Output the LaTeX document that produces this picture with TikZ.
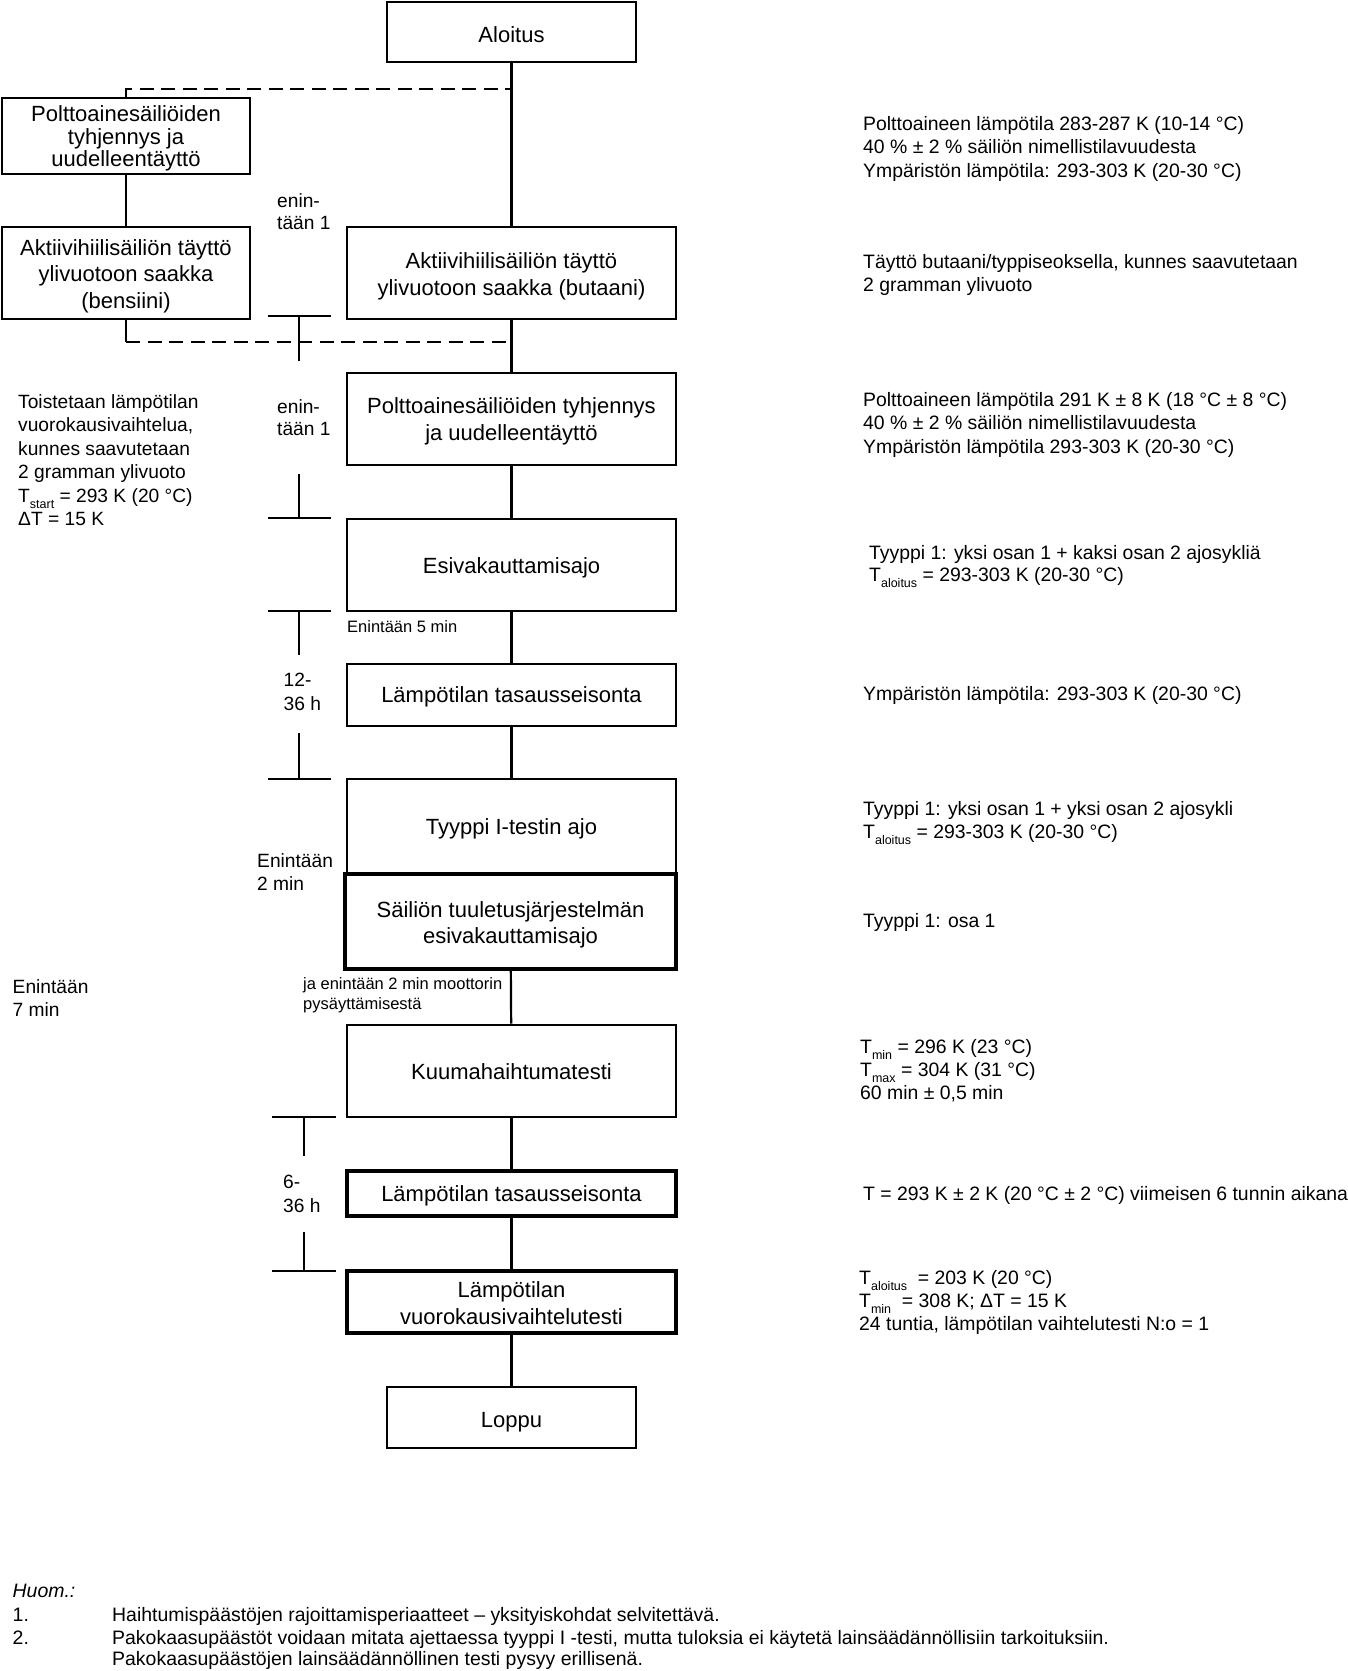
\documentclass[tikz,border=0pt]{standalone}
\usepackage{fontspec}
\setmainfont{Liberation Sans}
\newcommand\tsub[1]{\raisebox{-0.32em}{\fontsize{12.5}{12.5}\selectfont #1}}
\newcommand\bt[2][7pt]{\raisebox{0pt}[\dimexpr\height+#1\relax]{\begin{tabular}{@{}c@{}}#2\end{tabular}}}
\begin{document}
\begin{tikzpicture}[x=1pt,y=-1pt,
  box/.style={draw, line width=2.6pt, inner sep=0pt,
    font=\fontsize{22}{27}\selectfont, minimum width=329pt},
  thickbox/.style={box, line width=4.2pt},
  txt/.style={inner sep=0pt, anchor=north west, align=left,
    font=\fontsize{19.4}{23.4}\selectfont},
  small/.style={inner sep=0pt, align=left, font=\fontsize{16.5}{20}\selectfont},
  conn/.style={line width=2.2pt},
  dashconn/.style={line width=2.2pt, dash pattern=on 14pt off 7.5pt},
  tick/.style={line width=2.2pt}]
\useasboundingbox (0,0) rectangle (1347,1671);
\fill[white] (0,0) rectangle (1347,1671);

% boxes
\node[box, minimum width=249pt, minimum height=60pt] (aloitus) at (511.5,32) {\bt[10pt]{Aloitus}};
\node[box, minimum width=248pt, minimum height=76pt, font=\fontsize{22}{22.4}\selectfont] (poltL) at (126,136) {\bt{Polttoainesäiliöiden\\tyhjennys ja\\uudelleentäyttö}};
\node[box, minimum width=248pt, minimum height=92pt, font=\fontsize{22}{26.6}\selectfont] (bens) at (126,273) {\bt{Aktiivihiilisäiliön täyttö\\ylivuotoon saakka\\(bensiini)}};
\node[box, minimum height=92pt] (but) at (511.5,273) {\bt{Aktiivihiilisäiliön täyttö\\ylivuotoon saakka (butaani)}};
\node[box, minimum height=92pt] (polt) at (511.5,419) {\bt[6pt]{Polttoainesäiliöiden tyhjennys\\ja uudelleentäyttö}};
\node[box, minimum height=92pt] (esi) at (511.5,565) {\bt[6pt]{Esivakauttamisajo}};
\node[box, minimum height=62pt] (tas1) at (511.5,695) {\bt[5pt]{Lämpötilan tasausseisonta}};
\node[box, minimum height=95pt] (tyy) at (511.5,826.5) {\bt[6pt]{Tyyppi I-testin ajo}};
\node[thickbox, minimum width=331pt, minimum height=95pt, font=\fontsize{22}{26.6}\selectfont] (sai) at (510.5,921.5) {\bt{Säiliön tuuletusjärjestelmän\\esivakauttamisajo}};
\node[box, minimum height=92pt] (kuu) at (511.5,1071) {\bt[7pt]{Kuumahaihtumatesti}};
\node[thickbox, minimum height=45pt] (tas2) at (511.5,1193.5) {\bt[6pt]{Lämpötilan tasausseisonta}};
\node[thickbox, minimum height=62pt, font=\fontsize{22}{26.6}\selectfont] (vuo) at (511.5,1302) {\bt{Lämpötilan\\vuorokausivaihtelutesti}};
\node[box, minimum width=249pt, minimum height=61pt] (lop) at (511.5,1417.5) {\bt[10pt]{Loppu}};

% connectors
\draw[conn] (aloitus) -- (but);
\draw[conn] (but) -- (polt);
\draw[conn] (polt) -- (esi);
\draw[conn] (esi) -- (tas1);
\draw[conn] (tas1) -- (tyy);
\draw[conn] (sai) -- (kuu);
\draw[conn] (kuu) -- (tas2);
\draw[conn] (tas2) -- (vuo);
\draw[conn] (vuo) -- (lop);
\draw[conn] (poltL) -- (bens);

% dashed branch
\coordinate (dtop) at (511.5,89);
\draw[dashconn] (poltL.north) |- (dtop);
\coordinate (bl) at (126,342);
\draw[conn] (bens.south) -- (bl);
\draw[dashconn] (bl) -- (but.south |- bl);

% time ticks
\draw[tick] (268,316) -- (331,316) (299,316) -- (299,361);
\draw[tick] (299,474) -- (299,518) (268,518) -- (331,518);
\draw[tick] (268,611) -- (331,611) (299,611) -- (299,655);
\draw[tick] (299,733) -- (299,779) (268,779) -- (331,779);
\draw[tick] (272,1117) -- (336,1117) (304,1117) -- (304,1156);
\draw[tick] (304,1232) -- (304,1271) (272,1271) -- (336,1271);

% left labels
\node[txt, font=\fontsize{19.2}{22.5}\selectfont] (l1) at (277,193) {enin-\\tään 1};
\node[txt, font=\fontsize{19.2}{22.5}\selectfont] (l2) at (277,399) {enin-\\tään 1};
\node[txt, font=\fontsize{19.2}{24}\selectfont] (l3) at (283.5,673) {12-\\36 h};
\node[txt, font=\fontsize{19.2}{23.4}\selectfont] (l4) at (257,853) {Enintään\\2 min};
\node[txt, font=\fontsize{19.2}{23.4}\selectfont] (l5) at (12.5,979) {Enintään\\7 min};
\node[txt, font=\fontsize{19.2}{23.4}\selectfont] (l6) at (283,1175) {6-\\36 h};
\node[txt, font=\fontsize{19.2}{23.5}\selectfont] (l7) at (18,394) {Toistetaan lämpötilan\\vuorokausivaihtelua,\\kunnes saavutetaan\\2 gramman ylivuoto\\T\tsub{start} = 293 K (20 °C)\\ΔT = 15 K};
\node[small, anchor=west] (s1) at (347,627) {Enintään 5 min};
\node[small, anchor=north west] (s2) at (303,977) {ja enintään 2 min moottorin\\pysäyttämisestä};

% right texts
\node[txt] (r1) at (863,116) {Polttoaineen lämpötila 283-287 K (10-14 °C)\\40 \% ± 2 \% säiliön nimellistilavuudesta\\Ympäristön lämpötila: 293-303 K (20-30 °C)};
\node[txt] (r2) at (863,254) {Täyttö butaani/typpiseoksella, kunnes saavutetaan\\2 gramman ylivuoto};
\node[txt] (r3) at (863,392) {Polttoaineen lämpötila 291 K ± 8 K (18 °C ± 8 °C)\\40 \% ± 2 \% säiliön nimellistilavuudesta\\Ympäristön lämpötila 293-303 K (20-30 °C)};
\node[txt, font=\fontsize{19.4}{22.5}\selectfont] (r4) at (869,545) {Tyyppi 1: yksi osan 1 + kaksi osan 2 ajosykliä\\T\tsub{aloitus} = 293-303 K (20-30 °C)};
\node[txt] (r5) at (863,686) {Ympäristön lämpötila: 293-303 K (20-30 °C)};
\node[txt, font=\fontsize{19.4}{23}\selectfont] (r6) at (863,801) {Tyyppi 1: yksi osan 1 + yksi osan 2 ajosykli\\T\tsub{aloitus} = 293-303 K (20-30 °C)};
\node[txt] (r7) at (863,913) {Tyyppi 1: osa 1};
\node[txt, font=\fontsize{19.4}{23}\selectfont] (r8) at (860,1039) {T\tsub{min} = 296 K (23 °C)\\T\tsub{max} = 304 K (31 °C)\\60 min ± 0,5 min};
\node[txt] (r9) at (863,1186) {T = 293 K ± 2 K (20 °C ± 2 °C) viimeisen 6 tunnin aikana};
\node[txt, font=\fontsize{19.4}{23.2}\selectfont] (r10) at (859,1270) {T\tsub{aloitus}\ \ = 203 K (20 °C)\\T\tsub{min}\ \ = 308 K; ΔT = 15 K\\24 tuntia, lämpötilan vaihtelutesti N:o = 1};

% notes
\node[txt, anchor=west, font=\itshape\fontsize{19.45}{23}\selectfont] (huom) at (12.5,1591) {Huom.:};
\node[txt, anchor=base west, font=\fontsize{19.45}{22}\selectfont] (n1) at (12.5,1621) {1.};
\node[txt, anchor=base west, font=\fontsize{19.45}{22}\selectfont] (n2) at (12.5,1644) {2.};
\node[txt, anchor=base west, font=\fontsize{19.45}{22}\selectfont] (t1) at (112,1621) {Haihtumispäästöjen rajoittamisperiaatteet – yksityiskohdat selvitettävä.};
\node[txt, font=\fontsize{19.45}{21.5}\selectfont] (t2) at (112,1630) {Pakokaasupäästöt voidaan mitata ajettaessa tyyppi I -testi, mutta tuloksia ei käytetä lainsäädännöllisiin tarkoituksiin.\\Pakokaasupäästöjen lainsäädännöllinen testi pysyy erillisenä.};
\end{tikzpicture}
\end{document}
